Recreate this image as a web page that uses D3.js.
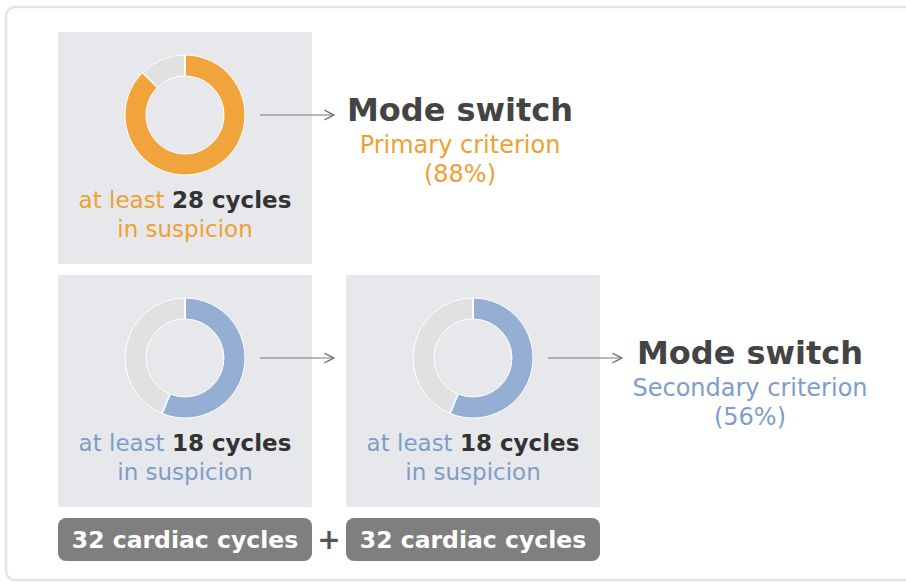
<!DOCTYPE html>
<html>
<head>
<meta charset="utf-8">
<script src="https://cdn.jsdelivr.net/npm/d3@7"></script>
<style>
  body { margin: 0; background: #fff; }
  text { font-family: "DejaVu Sans", Verdana, sans-serif; }
</style>
</head>
<body>
<script>
// data
var totalCycles = 32;
var thresholds = [28, 18, 18];          // cycles in suspicion per window
var windowLabels = ["32 cardiac cycles", "32 cardiac cycles"];
var criteria = ["Primary criterion", "Secondary criterion"];
var percents = [88, 56];

var orange = "#f0a43b", blue = "#94aed4";
var orangeText = "#f0a030", blueText = "#7e9dcd";

var svg = d3.select("body").append("svg")
  .attr("width", 906)
  .attr("height", 582);

// arrow marker
svg.append("defs").append("marker")
  .attr("id", "head")
  .attr("viewBox", "0 0 10 10")
  .attr("refX", 9).attr("refY", 5)
  .attr("markerWidth", 12).attr("markerHeight", 12)
  .attr("markerUnits", "userSpaceOnUse")
  .attr("orient", "auto")
  .append("path")
  .attr("d", "M1,1 L9,5 L1,9")
  .attr("fill", "none")
  .attr("stroke", "#777")
  .attr("stroke-width", 1.2);

// outer frame
svg.append("rect")
  .attr("x", 6).attr("y", 7)
  .attr("width", 920).attr("height", 573)
  .attr("rx", 9)
  .attr("fill", "#fff")
  .attr("stroke", "#e4e4e4")
  .attr("stroke-width", 2.5);

var pie = d3.pie().sort(null).value(function(d) { return d; });
var arc = d3.arc().innerRadius(39).outerRadius(60).padAngle(0.012);

// panels: column 0/1, row 0/1
var panels = [
  {col: 0, row: 0, color: orange, text: orangeText, n: thresholds[0]},
  {col: 0, row: 1, color: blue, text: blueText, n: thresholds[1]},
  {col: 1, row: 1, color: blue, text: blueText, n: thresholds[2]}
];
var colX = [58, 346], rowY = [32, 275];
var pw = 254, ph = 232;

panels.forEach(function(p) {
  var g = svg.append("g")
    .attr("transform", "translate(" + colX[p.col] + "," + rowY[p.row] + ")");
  g.append("rect")
    .attr("width", pw).attr("height", ph)
    .attr("fill", "#e7e8eb");

  var donut = g.append("g").attr("transform", "translate(127,83)");
  donut.selectAll("path")
    .data(pie([p.n, totalCycles - p.n]))
    .enter().append("path")
    .attr("d", arc)
    .attr("fill", function(d, i) { return i === 0 ? p.color : "#e1e1e1"; })
    .attr("stroke", "#fff")
    .attr("stroke-width", 1);

  var t = g.append("text")
    .attr("x", 127).attr("y", 176)
    .attr("text-anchor", "middle")
    .attr("font-size", 23)
    .attr("fill", p.text);
  t.append("tspan").text("at least ");
  t.append("tspan").attr("font-weight", "bold").attr("fill", "#333")
    .text(p.n + " cycles");
  g.append("text")
    .attr("x", 127).attr("y", 205)
    .attr("text-anchor", "middle")
    .attr("font-size", 23)
    .attr("fill", p.text)
    .text("in suspicion");

  // arrow to the right of the panel
  g.append("line")
    .attr("x1", 202).attr("y1", 83)
    .attr("x2", 276).attr("y2", 83)
    .attr("stroke", "#777")
    .attr("stroke-width", 1.2)
    .attr("marker-end", "url(#head)");
});

// results
var results = [
  {x: 460, y: 121, crit: criteria[0], pct: percents[0], color: orangeText},
  {x: 750, y: 364, crit: criteria[1], pct: percents[1], color: blueText}
];
results.forEach(function(r) {
  svg.append("text")
    .attr("x", r.x).attr("y", r.y)
    .attr("text-anchor", "middle")
    .attr("font-size", 32)
    .attr("font-weight", "bold")
    .attr("fill", "#444")
    .text("Mode switch");
  svg.append("text")
    .attr("x", r.x).attr("y", r.y + 32)
    .attr("text-anchor", "middle")
    .attr("font-size", 24)
    .attr("fill", r.color)
    .text(r.crit);
  svg.append("text")
    .attr("x", r.x).attr("y", r.y + 61)
    .attr("text-anchor", "middle")
    .attr("font-size", 24)
    .attr("fill", r.color)
    .text("(" + r.pct + "%)");
});

// window pills
windowLabels.forEach(function(lbl, i) {
  svg.append("rect")
    .attr("x", colX[i]).attr("y", 518)
    .attr("width", pw).attr("height", 43)
    .attr("rx", 8)
    .attr("fill", "#7f7f7f");
  svg.append("text")
    .attr("x", colX[i] + pw / 2).attr("y", 548)
    .attr("text-anchor", "middle")
    .attr("font-size", 23.5)
    .attr("font-weight", "bold")
    .attr("fill", "#fff")
    .text(lbl);
});
svg.append("text")
  .attr("x", 329).attr("y", 549)
  .attr("text-anchor", "middle")
  .attr("font-size", 28)
  .attr("font-weight", "bold")
  .attr("fill", "#555")
  .text("+");
</script>
</body>
</html>
